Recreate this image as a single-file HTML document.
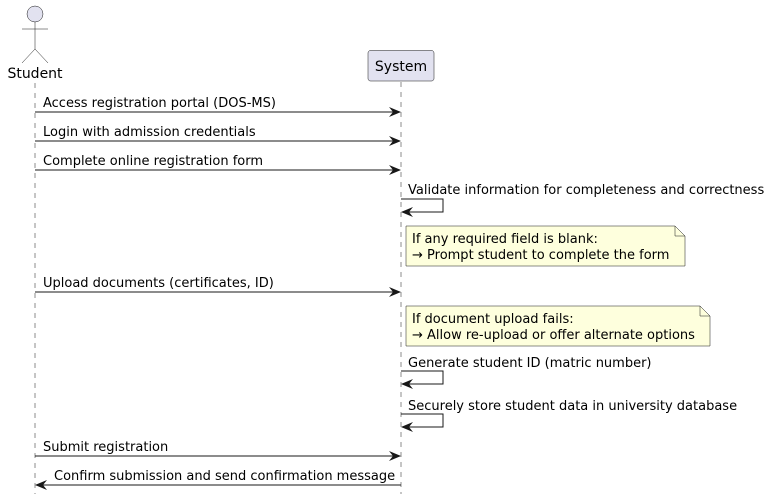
<!DOCTYPE html>
<html><head><meta charset="utf-8"><style>
html,body{margin:0;padding:0;background:#fff;}
svg{display:block;}
text{font-family:"DejaVu Sans","Liberation Sans",sans-serif;font-size:13px;fill:#000;}
</style></head><body>
<svg width="772" height="494" viewBox="0 0 772 494" xmlns="http://www.w3.org/2000/svg">
<defs>
<marker id="ah" viewBox="0 0 12 10" refX="11" refY="5" markerWidth="12" markerHeight="10" orient="auto-start-reverse" markerUnits="userSpaceOnUse">
<path d="M0,0 L12,5 L0,10 L4,5 Z" fill="#181818"/>
</marker>
</defs>
<line x1="35" y1="83" x2="35" y2="494" stroke="#181818" stroke-width="0.5" stroke-dasharray="5,5"/>
<line x1="401" y1="82" x2="401" y2="494" stroke="#181818" stroke-width="0.5" stroke-dasharray="5,5"/>
<circle cx="35" cy="14" r="8" fill="#E2E2F0" stroke="#181818" stroke-width="0.5"/>
<line x1="35" y1="22" x2="35" y2="49" stroke="#181818" stroke-width="0.5"/>
<line x1="22" y1="29" x2="48" y2="29" stroke="#181818" stroke-width="0.5"/>
<line x1="35" y1="49" x2="22" y2="63" stroke="#181818" stroke-width="0.5"/>
<line x1="35" y1="49" x2="48" y2="63" stroke="#181818" stroke-width="0.5"/>
<text x="35" y="78" text-anchor="middle" style="font-size:14px">Student</text>
<rect x="368" y="50.5" width="66" height="30.5" rx="2.5" fill="#E2E2F0" stroke="#181818" stroke-width="0.5"/>
<text x="401" y="71" text-anchor="middle" style="font-size:14px">System</text>
<text x="43" y="107">Access registration portal (DOS-MS)</text>
<line x1="35" y1="112" x2="400" y2="112" stroke="#181818" marker-end="url(#ah)"/>
<text x="43" y="136">Login with admission credentials</text>
<line x1="35" y1="141" x2="400" y2="141" stroke="#181818" marker-end="url(#ah)"/>
<text x="43" y="165">Complete online registration form</text>
<line x1="35" y1="170" x2="400" y2="170" stroke="#181818" marker-end="url(#ah)"/>
<text x="408" y="194">Validate information for completeness and correctness</text>
<polyline points="401,199 443,199 443,212 402,212" fill="none" stroke="#181818" marker-end="url(#ah)"/>
<path d="M406,226 L675,226 L685,236 L685,266 L406,266 Z" fill="#FEFFDD" stroke="#181818" stroke-width="0.5"/>
<path d="M675,226 L675,236 L685,236" fill="none" stroke="#181818" stroke-width="0.5"/>
<text x="412" y="243">If any required field is blank:</text>
<text x="412" y="259">→ Prompt student to complete the form</text>
<text x="43" y="287">Upload documents (certificates, ID)</text>
<line x1="35" y1="292" x2="400" y2="292" stroke="#181818" marker-end="url(#ah)"/>
<path d="M406,306 L700,306 L710,316 L710,346 L406,346 Z" fill="#FEFFDD" stroke="#181818" stroke-width="0.5"/>
<path d="M700,306 L700,316 L710,316" fill="none" stroke="#181818" stroke-width="0.5"/>
<text x="412" y="323">If document upload fails:</text>
<text x="412" y="339">→ Allow re-upload or offer alternate options</text>
<text x="408" y="367">Generate student ID (matric number)</text>
<polyline points="401,371 443,371 443,384 402,384" fill="none" stroke="#181818" marker-end="url(#ah)"/>
<text x="408" y="410">Securely store student data in university database</text>
<polyline points="401,414 443,414 443,427 402,427" fill="none" stroke="#181818" marker-end="url(#ah)"/>
<text x="43" y="451">Submit registration</text>
<line x1="35" y1="456" x2="400" y2="456" stroke="#181818" marker-end="url(#ah)"/>
<text x="54" y="480">Confirm submission and send confirmation message</text>
<line x1="401" y1="485" x2="36" y2="485" stroke="#181818" marker-end="url(#ah)"/>
</svg>
</body></html>
